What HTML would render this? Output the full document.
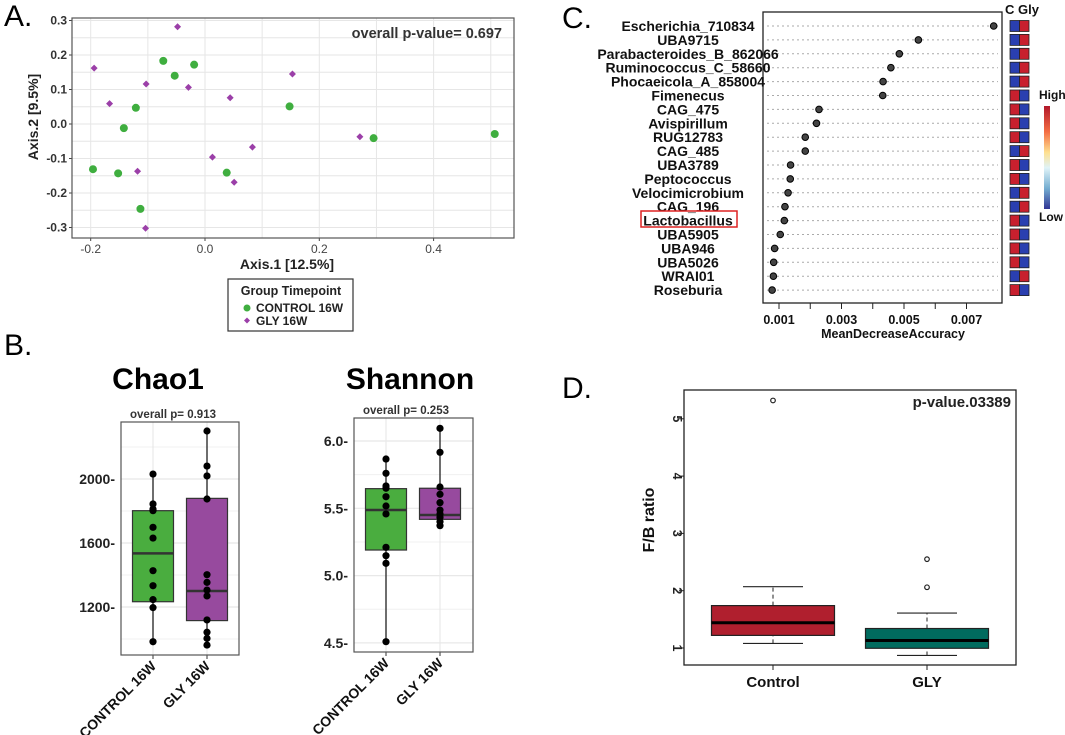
<!DOCTYPE html>
<html><head><meta charset="utf-8"><style>
html,body{margin:0;padding:0;background:#fff;width:1065px;height:735px;overflow:hidden}
svg{display:block;font-family:"Liberation Sans",Arial,sans-serif}
</style></head><body>
<svg id="fig" width="1065" height="735" viewBox="0 0 1065 735" xmlns="http://www.w3.org/2000/svg">
<text x="4" y="26" font-size="30">A.</text>
<text x="4" y="355" font-size="30">B.</text>
<text x="562" y="28" font-size="30">C.</text>
<text x="562" y="398" font-size="30">D.</text>
<g id="pa"></g>
<g id="pb"></g>
<g id="pc"></g>
<g id="pd"></g>
</svg>
<script>
// ---- Panel A data ----
const ctrlX = [-0.073,-0.019,-0.053,-0.121,-0.142,0.148,0.295,0.507,-0.196,-0.152,0.038,-0.113];
const ctrlY = [0.183,0.172,0.140,0.047,-0.012,0.051,-0.041,-0.029,-0.131,-0.143,-0.141,-0.246];
const glyX = [-0.048,-0.194,-0.103,-0.167,-0.029,0.044,0.153,0.271,0.083,0.013,-0.118,0.051,-0.104];
const glyY = [0.282,0.162,0.116,0.059,0.106,0.076,0.145,-0.037,-0.067,-0.096,-0.137,-0.169,-0.302];
const aXTicks = [-0.2,0.0,0.2,0.4];
const aYTicks = [0.3,0.2,0.1,0.0,-0.1,-0.2,-0.3];
// ---- Panel B data ----
const chaoCats = ["CONTROL 16W","GLY 16W"];
const chaoStats = [[983,1233,1535,1802,2031],[962,1115,1300,1879,2300]];
const chaoCtrlPts = [2031,1844,1812,1802,1698,1631,1427,1333,1246,1196,983];
const chaoGlyPts = [2300,2081,2019,1875,1402,1354,1306,1269,1119,1042,1004,962];
const chaoTicks = [1200,1600,2000];
const shanStats = [[4.509,5.19,5.487,5.646,5.866],[5.368,5.418,5.45,5.649,6.094]];
const shanCtrlPts = [5.866,5.760,5.666,5.649,5.586,5.517,5.458,5.21,5.148,5.091,4.509];
const shanGlyPts = [6.094,5.916,5.658,5.604,5.542,5.487,5.458,5.433,5.40,5.371];
const shanTicks = [4.5,5.0,5.5,6.0];
// ---- Panel C data ----
const taxa = ["Escherichia_710834","UBA9715","Parabacteroides_B_862066","Ruminococcus_C_58660","Phocaeicola_A_858004","Fimenecus","CAG_475","Avispirillum","RUG12783","CAG_485","UBA3789","Peptococcus","Velocimicrobium","CAG_196","Lactobacillus","UBA5905","UBA946","UBA5026","WRAI01","Roseburia"];
const mda = [0.00787,0.00546,0.00485,0.00458,0.00433,0.00432,0.00228,0.00220,0.00184,0.00184,0.00137,0.00136,0.00129,0.00119,0.00117,0.00104,0.00086,0.00083,0.00082,0.00078];
const ctrlHigh = [0,0,0,0,0,1,1,1,1,0,1,1,0,0,1,1,1,1,0,1];
const cTicks = [0.001,0.003,0.005,0.007];
// ---- Panel D data ----
const fbCats = ["Control","GLY"];
const fbStats = [[1.08,1.22,1.44,1.74,2.07],[0.87,0.995,1.13,1.34,1.61]];
const fbOutliers = [[5.32],[2.55,2.06]];
const fbTicks = [1,2,3,4,5];

const NS="http://www.w3.org/2000/svg";
function mk(parent,tag,attrs,text){const e=document.createElementNS(NS,tag);for(const k in attrs)e.setAttribute(k,attrs[k]);if(text!==undefined)e.textContent=text;parent.appendChild(e);return e;}

// ===== Panel A =====
(function(){
const g=document.getElementById('pa');
const L=72,R=514,T=18,B=238;
const sx=v=>205+(v/0.2)*114.3, sy=v=>124-(v/0.1)*34.5;
mk(g,'rect',{x:L,y:T,width:R-L,height:B-T,fill:'#fff'});
for(let v=-0.3;v<=0.6;v+=0.1){const x=sx(v);if(x>L&&x<R){mk(g,'line',{x1:x,x2:x,y1:T,y2:B,stroke:'#e6e6e6','stroke-width':1});}}
for(let v=-0.35;v<=0.35;v+=0.05){const y=sy(v);if(y>T&&y<B)mk(g,'line',{x1:L,x2:R,y1:y,y2:y,stroke:'#e6e6e6','stroke-width':1});}
aXTicks.forEach(v=>{const t=mk(g,'text',{x:sx(v),y:253,'font-size':12,'text-anchor':'middle',fill:'#444'},v.toFixed(1));

mk(g,'line',{x1:sx(v),x2:sx(v),y1:B,y2:B+3,stroke:'#444'});});
aYTicks.forEach(v=>{const t=mk(g,'text',{x:67,y:sy(v)+4,'font-size':12,'font-weight':'bold','text-anchor':'end',fill:'#333'},v.toFixed(1));

mk(g,'line',{x1:L-3,x2:L,y1:sy(v),y2:sy(v),stroke:'#444'});});
mk(g,'rect',{x:L,y:T,width:R-L,height:B-T,fill:'none',stroke:'#555','stroke-width':1.2});
ctrlX.forEach((v,i)=>{const c=mk(g,'circle',{cx:sx(v),cy:sy(ctrlY[i]),r:4,fill:'#3fae3f'});
});
glyX.forEach((v,i)=>{const x=sx(v),y=sy(glyY[i]);const p=mk(g,'path',{d:`M${x} ${y-3.5}L${x+3.5} ${y}L${x} ${y+3.5}L${x-3.5} ${y}Z`,fill:'#9b3fa8'});
});
let t=mk(g,'text',{x:502,y:38,'font-size':14.5,'font-weight':'bold','text-anchor':'end',fill:'#333'},'overall p-value= 0.697');

t=mk(g,'text',{x:287,y:269,'font-size':14,'font-weight':'bold','text-anchor':'middle',fill:'#222'},'Axis.1   [12.5%]');

t=mk(g,'text',{x:0,y:0,'font-size':14,'font-weight':'bold','text-anchor':'middle',fill:'#222',transform:'translate(38,117) rotate(-90)'},'Axis.2   [9.5%]');

const lg=mk(g,'g',{});
mk(lg,'rect',{x:228,y:279,width:125,height:52,fill:'#fff',stroke:'#333','stroke-width':1.2});
mk(lg,'text',{x:291,y:295,'font-size':12.5,'font-weight':'bold','text-anchor':'middle',fill:'#222'},'Group Timepoint');
mk(lg,'circle',{cx:247,cy:308,r:3.5,fill:'#3fae3f'});
mk(lg,'text',{x:256,y:312,'font-size':12,'font-weight':'bold',fill:'#222'},'CONTROL 16W');
mk(lg,'path',{d:'M247 317.5L250 320.5L247 323.5L244 320.5Z',fill:'#9b3fa8'});
mk(lg,'text',{x:256,y:325,'font-size':12,'font-weight':'bold',fill:'#222'},'GLY 16W');
})();

// ===== Panel B =====
function boxPanel(g,opts){
const {L,R,T,B,sy,ticks,tfmt,stats,pts,title,tx,ptxt,ptx,cx}=opts;
mk(g,'rect',{x:L,y:T,width:R-L,height:B-T,fill:'#fff'});
for(let i=0;i<ticks.length;i++){const y=sy(ticks[i]);mk(g,'line',{x1:L,x2:R,y1:y,y2:y,stroke:'#e8e8e8','stroke-width':1.2});
if(i<ticks.length-1){const y2=sy((ticks[i]+ticks[i+1])/2);mk(g,'line',{x1:L,x2:R,y1:y2,y2:y2,stroke:'#f0f0f0'});}}
const ylo=sy((ticks[0]-(ticks[1]-ticks[0])/2));if(ylo<B)mk(g,'line',{x1:L,x2:R,y1:ylo,y2:ylo,stroke:'#f0f0f0'});
const yhi=sy(ticks[ticks.length-1]+(ticks[1]-ticks[0])/2);if(yhi>T)mk(g,'line',{x1:L,x2:R,y1:yhi,y2:yhi,stroke:'#f0f0f0'});
cx.forEach(x=>mk(g,'line',{x1:x,x2:x,y1:T,y2:B,stroke:'#e8e8e8','stroke-width':1.2}));
ticks.forEach(v=>{const t=mk(g,'text',{x:L-6,y:sy(v)+5,'font-size':14,'font-weight':'bold','text-anchor':'end',fill:'#222'},tfmt(v)+'-');
});
const cols=['#4aad3f','#974a9e'];
stats.forEach((s,i)=>{const x=cx[i];
mk(g,'line',{x1:x,x2:x,y1:sy(s[0]),y2:sy(s[4]),stroke:'#222','stroke-width':1.3});
const r=mk(g,'rect',{x:x-20.5,y:sy(s[3]),width:41,height:sy(s[1])-sy(s[3]),fill:cols[i],stroke:'#333','stroke-width':1.2});

mk(g,'line',{x1:x-20.5,x2:x+20.5,y1:sy(s[2]),y2:sy(s[2]),stroke:'#333','stroke-width':2.5});
pts[i].forEach(v=>{const c=mk(g,'circle',{cx:x,cy:sy(v),r:3.6,fill:'#000'});});
mk(g,'line',{x1:x,x2:x,y1:B,y2:B+4,stroke:'#333'});
const t=mk(g,'text',{x:0,y:0,'font-size':14,'font-weight':'bold','text-anchor':'end',fill:'#111',transform:`translate(${x+4},${B+12}) rotate(-45)`},chaoCats[i]);
});
mk(g,'rect',{x:L,y:T,width:R-L,height:B-T,fill:'none',stroke:'#555','stroke-width':1.2});
let t=mk(g,'text',{x:tx,y:389,'font-size':30,'font-weight':'bold','text-anchor':'middle',fill:'#000'},title);

t=mk(g,'text',{x:ptx,y:T-4,'font-size':11.5,'font-weight':'bold','text-anchor':'middle',fill:'#333'},ptxt);

}
(function(){
const g=document.getElementById('pb');
const g1=mk(g,'g',{});
boxPanel(g1,{L:121,R:239,T:422,B:655,sy:v=>479+(2000-v)*64/400,ticks:chaoTicks,tfmt:v=>String(v),stats:chaoStats,pts:[chaoCtrlPts,chaoGlyPts],title:'Chao1',tx:158,ptxt:'overall p= 0.913',ptx:173,cx:[153,207]});
const g2=mk(g,'g',{});
boxPanel(g2,{L:354,R:473,T:418,B:652,sy:v=>441+(6.0-v)*67.3/0.5,ticks:shanTicks,tfmt:v=>v.toFixed(1),stats:shanStats,pts:[shanCtrlPts,shanGlyPts],title:'Shannon',tx:410,ptxt:'overall p= 0.253',ptx:406,cx:[386,440]});
})();

// ===== Panel C =====
(function(){
const g=document.getElementById('pc');
const L=763,R=1002,T=12,B=303;
const sx=v=>779+(v-0.001)/0.002*62.5, sy=i=>26+i*13.9;
mk(g,'rect',{x:L,y:T,width:R-L,height:B-T,fill:'none',stroke:'#222','stroke-width':1.3});
taxa.forEach((n,i)=>{const y=sy(i);
mk(g,'line',{x1:767,x2:998,y1:y,y2:y,stroke:'#aaa','stroke-dasharray':'2,3','stroke-width':1});
const t=mk(g,'text',{x:688,y:y+5,'font-size':14,'font-weight':'bold','text-anchor':'middle',fill:'#111'},n);

const c=mk(g,'circle',{cx:sx(mda[i]),cy:y,r:3.3,fill:'#444',stroke:'#000','stroke-width':1});

const red='#c8202e',blue='#2a3fb0';
const a=mk(g,'rect',{x:1010,y:y-5.5,width:9.5,height:11,fill:ctrlHigh[i]?red:blue,stroke:'#222','stroke-width':0.8});

const b=mk(g,'rect',{x:1019.5,y:y-5.5,width:9.5,height:11,fill:ctrlHigh[i]?blue:red,stroke:'#222','stroke-width':0.8});

if(n==='Lactobacillus'){const r=mk(g,'rect',{x:641,y:211,width:96,height:16,fill:'none',stroke:'#d22','stroke-width':1.5});}
});
for(let v=0.001;v<0.0075;v+=0.001){mk(g,'line',{x1:sx(v),x2:sx(v),y1:B,y2:B+6,stroke:'#222'});}
cTicks.forEach(v=>{const t=mk(g,'text',{x:sx(v),y:324,'font-size':12.5,'font-weight':'bold','text-anchor':'middle',fill:'#111'},v.toFixed(3));
});
let t=mk(g,'text',{x:893,y:338,'font-size':12.5,'font-weight':'bold','text-anchor':'middle',fill:'#111'},'MeanDecreaseAccuracy');

t=mk(g,'text',{x:1005,y:14,'font-size':13,'font-weight':'bold',fill:'#111'},'C Gly');

const defs=mk(g,'defs',{});const lgd=mk(defs,'linearGradient',{id:'cb',x1:0,y1:0,x2:0,y2:1});
[['0','#b2182b'],['0.25','#f46d43'],['0.45','#fee090'],['0.6','#e0f3f8'],['0.8','#74add1'],['1','#313695']].forEach(s=>mk(lgd,'stop',{offset:s[0],'stop-color':s[1]}));
const cb=mk(g,'rect',{x:1044,y:106,width:6,height:103,fill:'url(#cb)'});
t=mk(g,'text',{x:1039,y:99,'font-size':12,'font-weight':'bold',fill:'#111'},'High');
t=mk(g,'text',{x:1039,y:221,'font-size':12,'font-weight':'bold',fill:'#111'},'Low');
})();

// ===== Panel D =====
(function(){
const g=document.getElementById('pd');
const L=684,R=1016,T=390,B=665;
const sy=v=>648-(v-1)*57.3, cx=[773,927];
const cols=['#b01f2e','#006b5e'];
fbTicks.forEach(v=>{mk(g,'line',{x1:L-5,x2:L,y1:sy(v),y2:sy(v),stroke:'#222'});
const t=mk(g,'text',{x:0,y:0,'font-size':12.5,'font-weight':'bold','text-anchor':'middle',fill:'#222',transform:`translate(673,${sy(v)}) rotate(90)`},String(v));
});
fbStats.forEach((s,i)=>{const x=cx[i];
mk(g,'line',{x1:x,x2:x,y1:sy(s[0]),y2:sy(s[1]),stroke:'#222','stroke-dasharray':'4,3'});
mk(g,'line',{x1:x,x2:x,y1:sy(s[3]),y2:sy(s[4]),stroke:'#222','stroke-dasharray':'4,3'});
mk(g,'line',{x1:x-30,x2:x+30,y1:sy(s[0]),y2:sy(s[0]),stroke:'#222','stroke-width':1.2});
mk(g,'line',{x1:x-30,x2:x+30,y1:sy(s[4]),y2:sy(s[4]),stroke:'#222','stroke-width':1.2});
const r=mk(g,'rect',{x:x-61.5,y:sy(s[3]),width:123,height:sy(s[1])-sy(s[3]),fill:cols[i],stroke:'#222','stroke-width':1.2});

mk(g,'line',{x1:x-61.5,x2:x+61.5,y1:sy(s[2]),y2:sy(s[2]),stroke:'#000','stroke-width':3});
fbOutliers[i].forEach(v=>{const c=mk(g,'circle',{cx:x,cy:sy(v),r:2.3,fill:'none',stroke:'#222','stroke-width':1.2});});
mk(g,'line',{x1:x,x2:x,y1:B,y2:B+5,stroke:'#222'});
const t=mk(g,'text',{x:x,y:687,'font-size':15,'font-weight':'bold','text-anchor':'middle',fill:'#111'},fbCats[i]);
});
mk(g,'rect',{x:L,y:T,width:R-L,height:B-T,fill:'none',stroke:'#222','stroke-width':1.3});
let t=mk(g,'text',{x:1011,y:407,'font-size':15,'font-weight':'bold','text-anchor':'end',fill:'#222'},'p-value.03389');

t=mk(g,'text',{x:0,y:0,'font-size':16,'font-weight':'bold','text-anchor':'middle',fill:'#111',transform:'translate(654,520) rotate(-90)'},'F/B ratio');

})();
</script>
</body></html>
